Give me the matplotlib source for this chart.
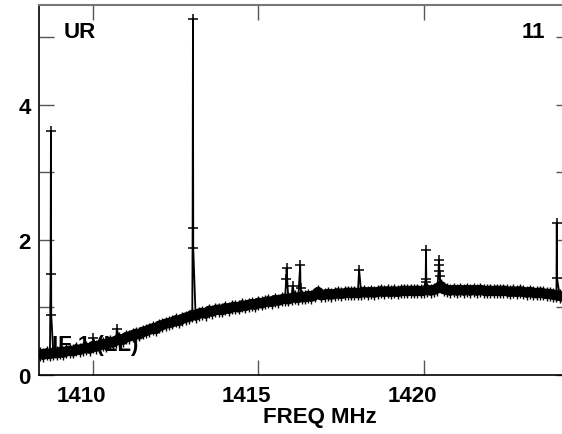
import numpy as np
import matplotlib
matplotlib.use("Agg")
import matplotlib.pyplot as plt
from matplotlib.transforms import ScaledTranslation

plt.rcParams['font.family'] = ['Liberation Sans', 'DejaVu Sans']
plt.rcParams['font.weight'] = 'bold'

# Channel frequencies (MHz) of the smooth band, 0.1 MHz apart from 1408.4
band_start = 1408.4
band_step = 0.1
band_vals = [
    0.31,
    0.30, 0.32, 0.31, 0.33, 0.32,
    0.34, 0.33, 0.35, 0.36, 0.35, 0.38, 0.37, 0.39, 0.40, 0.39,
    0.43, 0.42, 0.44, 0.46, 0.45, 0.49, 0.48, 0.51, 0.53, 0.52,
    0.56, 0.57, 0.59, 0.61, 0.60, 0.64, 0.65, 0.67, 0.69, 0.68,
    0.73, 0.74, 0.76, 0.77, 0.78, 0.81, 0.80, 0.83, 0.85, 0.86,
    0.89, 0.88, 0.91, 0.92, 0.91, 0.95, 0.94, 0.96, 0.97, 0.96,
    0.99, 0.98, 1.00, 1.01, 1.00, 1.03, 1.02, 1.04, 1.05, 1.04,
    1.07, 1.06, 1.08, 1.09, 1.08, 1.11, 1.10, 1.12, 1.13, 1.12,
    1.14, 1.15, 1.14, 1.16, 1.15, 1.17, 1.16, 1.18, 1.23, 1.18,
    1.19, 1.20, 1.19, 1.20, 1.21, 1.20, 1.21, 1.22, 1.21, 1.22,
    1.21, 1.22, 1.23, 1.22, 1.23, 1.22, 1.23, 1.24, 1.23, 1.24,
    1.23, 1.24, 1.23, 1.24, 1.25, 1.24, 1.25, 1.24, 1.25, 1.24,
    1.25, 1.26, 1.25, 1.26, 1.28, 1.32, 1.27, 1.26, 1.25, 1.26,
    1.25, 1.26, 1.25, 1.26, 1.25, 1.26, 1.25, 1.26, 1.25, 1.24,
    1.25, 1.24, 1.25, 1.24, 1.25, 1.24, 1.23, 1.24, 1.23, 1.24,
    1.23, 1.22, 1.23, 1.22, 1.21, 1.22, 1.21, 1.20, 1.20, 1.19,
    1.18, 1.17, 1.16, 1.15, 1.14,
]

# Interference spike channels
spike_freq = [1408.72, 1408.73, 1408.74, 1410.00, 1410.72,
              1413.01, 1413.02, 1413.03,
              1415.84, 1415.85, 1416.03, 1416.26, 1416.27,
              1418.04,
              1420.05, 1420.06, 1420.07,
              1420.44, 1420.45, 1420.46, 1420.47,
              1424.01, 1424.02]
spike_vals = [1.50, 3.61, 0.89, 0.55, 0.68,
              2.18, 5.27, 1.88,
              1.42, 1.58, 1.32, 1.63, 1.29,
              1.56,
              1.42, 1.85, 1.38,
              1.54, 1.70, 1.63, 1.47,
              2.25, 1.43]

x_ticks = [1410, 1415, 1420]
y_ticks = [0, 1, 2, 3, 4, 5]
y_labels = ['0', '', '2', '', '4', '']

band_freq = band_start + band_step * np.arange(len(band_vals))
freq = np.concatenate([band_freq, spike_freq])
vals = np.concatenate([band_vals, spike_vals])
order = np.argsort(freq, kind='stable')
freq = freq[order]
vals = vals[order]

W, H = 562, 435
fig = plt.figure(figsize=(W / 100, H / 100), dpi=100)
L, R, B, T = 39, 571, 376, 6
ax = fig.add_axes([L / W, (H - B) / H, (R - L) / W, (B - T) / H])

# dense noisy band of channels
ax.plot(band_freq, band_vals, color='black', lw=7.4, solid_capstyle='butt',
        solid_joinstyle='round')
ax.plot(band_freq, band_vals, color='black', lw=0, marker='+', ms=10, mew=1.0)
# full spectrum with spikes
ax.plot(freq, vals, color='black', lw=1.3, marker='+', ms=7, mew=1.1)

ax.set_xlim(1408.37, 1424.44)
ax.set_ylim(0, 5.48)
ax.set_xticks(x_ticks)
ax.set_xticklabels([str(t) for t in x_ticks])
ax.set_yticks(y_ticks)
ax.set_yticklabels(y_labels)
ax.tick_params(axis='both', direction='in', length=10.5, width=1,
               color='#555555', labelsize=16, top=True, right=True)
ax.tick_params(axis='x', pad=7)
ax.tick_params(axis='y', pad=6)
shift = ScaledTranslation(-12 / 100, 0, fig.dpi_scale_trans)
for lab in ax.get_xticklabels():
    lab.set_transform(lab.get_transform() + shift)
for lab in ax.get_xticklabels() + ax.get_yticklabels():
    lab.set_fontweight('bold')
for s in ['left', 'bottom']:
    ax.spines[s].set_color('black')
    ax.spines[s].set_linewidth(1.2)
ax.spines['top'].set_color('#777777')
ax.spines['top'].set_linewidth(1.5)

ax.text((64 - L) / (R - L), (B - 33) / (B - T), 'UR', transform=ax.transAxes,
        fontsize=16, fontweight='bold', ha='left', va='center')
ax.text((545 - L) / (R - L), (B - 33) / (B - T), '11', transform=ax.transAxes,
        fontsize=16, fontweight='bold', ha='right', va='center')
ax.text((52 - L) / (R - L), (B - 346) / (B - T), 'IF 1 (LL)', transform=ax.transAxes,
        fontsize=16, fontweight='bold', ha='left', va='center')

fig.text(320 / W, (H - 418) / H, 'FREQ MHz', fontsize=16, fontweight='bold',
         ha='center', va='center')

fig.savefig('out.png', dpi=100)
